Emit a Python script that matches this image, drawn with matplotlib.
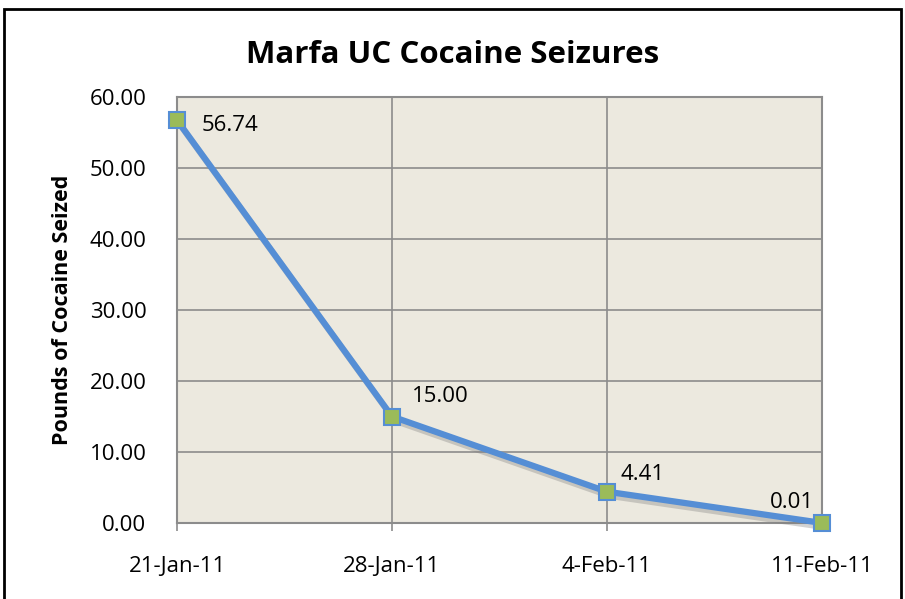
import matplotlib.pyplot as plt
import matplotlib.patheffects as pe
from matplotlib.patches import Rectangle

# data
dates = ["21-Jan-11", "28-Jan-11", "4-Feb-11", "11-Feb-11"]
pounds = [56.74, 15.00, 4.41, 0.01]
labels = ["56.74", "15.00", "4.41", "0.01"]

plt.rcParams['font.family'] = ['Open Sans', 'DejaVu Sans']

fig = plt.figure(figsize=(9.05, 5.99), dpi=100)
ax = fig.add_axes([177 / 905, 1 - 523 / 599, (822 - 177) / 905, (523 - 97) / 599])
ax.set_facecolor("#ECE9DF")

x = list(range(len(dates)))
ax.plot(x, pounds, color="#558ED5", lw=4.5, solid_capstyle="round", zorder=5, clip_on=False,
        path_effects=[pe.SimpleLineShadow(offset=(2, -3), shadow_color="gray", alpha=0.35), pe.Normal()])
ax.plot(x, pounds, ls="none", marker="s", markersize=11, markerfacecolor="#9BBB59",
        markeredgecolor="#558ED5", markeredgewidth=1.5, zorder=6, clip_on=False)

offsets = [(18, -4, "left", "center"), (14, 7, "left", "bottom"),
           (10, 5, "left", "bottom"), (-6, 7, "right", "bottom")]
for xi, yi, lab, (dx, dy, ha, va) in zip(x, pounds, labels, offsets):
    ax.annotate(lab, (xi, yi), xytext=(dx, dy), textcoords="offset points",
                ha=ha, va=va, fontsize=16, zorder=7)

ax.set_xlim(0, 3)
ax.set_ylim(0, 60)
ax.set_yticks(range(0, 61, 10))
ax.set_yticklabels([f"{v:.2f}" for v in range(0, 61, 10)], fontsize=16)
ax.set_xticks(x)
ax.set_xticklabels(dates, fontsize=16)
ax.tick_params(axis="y", length=0, pad=22)
ax.tick_params(axis="x", length=6, color="#8C8C8C", pad=18, width=1.2)
ax.grid(True, color="#8C8C8C", lw=1.2)
ax.set_axisbelow(True)
for s in ax.spines.values():
    s.set_color("#8C8C8C")
    s.set_linewidth(1.5)

ax.set_ylabel("Pounds of Cocaine Seized", fontsize=15.5, fontweight="bold", labelpad=12)
fig.text(453 / 905, 1 - 55 / 599, "Marfa UC Cocaine Seizures", ha="center", va="center",
         fontsize=22.5, fontweight="bold")

# outer chart border
fig.patches.append(Rectangle((4 / 905, -0.05), 897 / 905, 1.05 - 9 / 599,
                             transform=fig.transFigure, fill=False, ec="black", lw=2))

fig.savefig("out.png", dpi=100)
